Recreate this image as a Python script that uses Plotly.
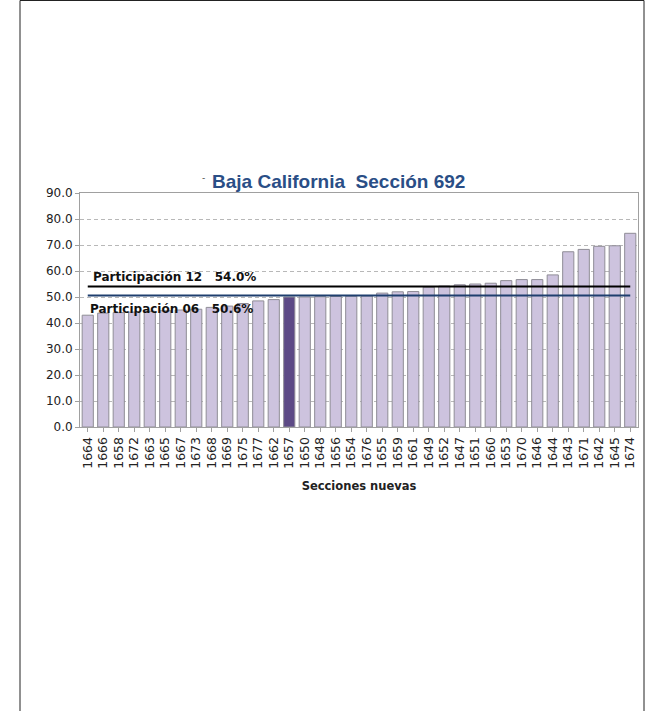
import plotly.graph_objects as go

secciones = ["1664", "1666", "1658", "1672", "1663", "1665", "1667", "1673", "1668",
             "1669", "1675", "1677", "1662", "1657", "1650", "1648", "1656", "1654",
             "1676", "1655", "1659", "1661", "1649", "1652", "1647", "1651", "1660",
             "1653", "1670", "1646", "1644", "1643", "1671", "1642", "1645", "1674"]
participacion = [43.0, 43.8, 44.0, 44.2, 44.5, 44.7, 45.0, 45.3, 46.0,
                 46.5, 47.5, 48.5, 49.0, 50.0, 50.0, 50.1, 50.2, 50.3,
                 50.4, 51.5, 52.0, 52.1, 53.8, 54.2, 54.7, 55.0, 55.3,
                 56.3, 56.7, 56.7, 58.5, 67.4, 68.3, 69.5, 69.7, 74.5]
destacada = "1657"
part12 = 54.0
part06 = 50.6
yticks = [0, 10, 20, 30, 40, 50, 60, 70, 80, 90]

colors = ["#5d4a86" if s == destacada else "#cdc3de" for s in secciones]

fig = go.Figure()
fig.add_trace(go.Bar(
    x=secciones, y=participacion,
    marker=dict(color=colors, line=dict(color="#8f8d96", width=1)),
    showlegend=False,
))
fig.add_trace(go.Scatter(
    x=secciones, y=[part12] * len(secciones), mode="lines",
    line=dict(color="#000000", width=2), showlegend=False,
))
fig.add_trace(go.Scatter(
    x=secciones, y=[part06] * len(secciones), mode="lines",
    line=dict(color="#1f3f6e", width=2), showlegend=False,
))

L, T, W, H = 80, 193, 558, 234
fig.update_layout(
    width=645, height=711,
    margin=dict(l=L, r=645 - L - W, t=T, b=711 - T - H),
    paper_bgcolor="white", plot_bgcolor="white",
    bargap=0.28,
    font=dict(family="DejaVu Sans, sans-serif", color="#222"),
    xaxis=dict(
        type="category", tickangle=-90, tickfont=dict(size=12.5),
        showline=True, linecolor="#a0a0a0", ticks="outside", ticklen=4,
        tickcolor="#a0a0a0", showgrid=False,
        title=dict(text="<b>Secciones nuevas</b>", font=dict(size=11.5), standoff=14),
        mirror=True,
    ),
    yaxis=dict(
        range=[0, 90], tickvals=yticks, tickformat=".1f", tickfont=dict(size=12),
        showline=True, linecolor="#a0a0a0", ticks="outside", ticklen=4,
        tickcolor="#a0a0a0", showgrid=True, gridcolor="#b8b8b8", griddash="4px,3px",
        gridwidth=1, mirror=True, zeroline=False,
    ),
    annotations=[
        dict(text="<b>Baja California  Sección 692</b>", xref="paper", yref="paper",
             x=(338 - L) / W, y=(427 - 181) / H, xanchor="center", yanchor="middle",
             showarrow=False, font=dict(size=19, color="#2a4e86",
                                         family="Liberation Sans, Arial, sans-serif")),
        dict(text="-", xref="paper", yref="paper", x=(203 - L) / W, y=(427 - 178) / H,
             xanchor="center", yanchor="middle", showarrow=False,
             font=dict(size=9, color="#444")),
        dict(text="<b>Participación 12   54.0%</b>", xref="paper", yref="paper",
             x=(91 - L) / W, y=(427 - 277) / H, xanchor="left", yanchor="middle",
             showarrow=False, font=dict(size=12, color="#111")),
        dict(text="<b>Participación 06   50.6%</b>", xref="paper", yref="paper",
             x=(88 - L) / W, y=(427 - 309) / H, xanchor="left", yanchor="middle",
             showarrow=False, font=dict(size=12, color="#111")),
    ],
    shapes=[
        dict(type="rect", xref="paper", yref="paper",
             x0=(20 - L) / W, x1=(644 - L) / W,
             y0=(427 - 712) / H, y1=(427 - 0.5) / H,
             line=dict(color="#222", width=1), layer="below"),
    ],
)
fig.write_html("out.html", config={"displayModeBar": False},
               post_script="document.body.style.margin='0';document.body.style.overflow='hidden';")
